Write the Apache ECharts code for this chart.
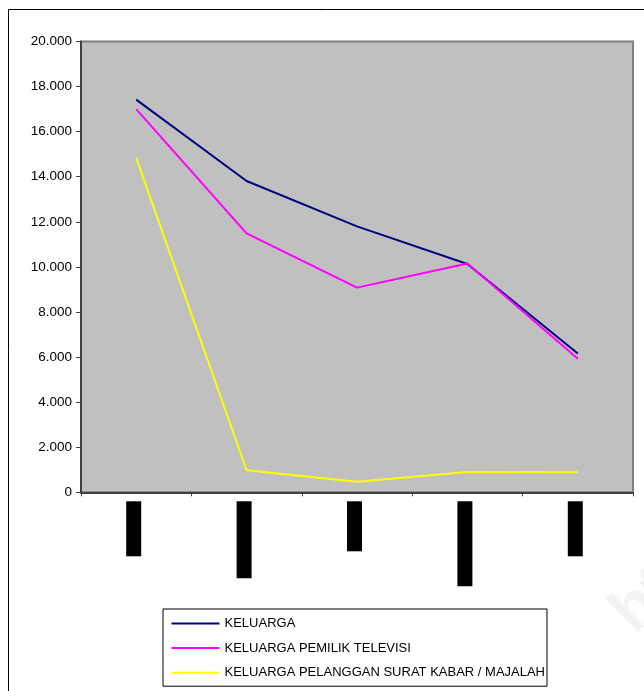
<!DOCTYPE html>
<html>
<head>
<meta charset="utf-8">
<script src="https://cdn.jsdelivr.net/npm/echarts@6/dist/echarts.min.js"></script>
<style>html,body{margin:0;padding:0;background:#fff}#c{width:644px;height:691px}</style>
</head>
<body>
<div id="c"></div>
<script>
var categories = ['Kec. A', 'Kec. B', 'Kec. C', 'Kec. D', 'Kec. E'];
var labelLengths = [55, 77, 50, 85, 55];
var keluarga = [17420, 13810, 11800, 10130, 6160];
var pemilikTv = [17000, 11490, 9080, 10150, 5930];
var pelangganKoran = [14840, 980, 470, 900, 890];
var yTickLabels = ['0', '2.000', '4.000', '6.000', '8.000', '10.000', '12.000', '14.000', '16.000', '18.000', '20.000'];
var seriesNames = ['KELUARGA', 'KELUARGA PEMILIK TELEVISI', 'KELUARGA PELANGGAN SURAT KABAR / MAJALAH'];

var rich = {};
labelLengths.forEach(function (l, i) {
  rich['b' + i] = {width: l, height: 15, backgroundColor: '#000', color: '#000', fontSize: 9, align: 'right'};
});

var chart = echarts.init(document.getElementById('c'), null, {renderer: 'canvas'});
chart.setOption({
  animation: false,
  backgroundColor: '#fff',
  textStyle: {fontFamily: 'Liberation Sans, Arial, sans-serif'},
  graphic: [
    {type: 'rect', shape: {x: 8.5, y: 9.5, width: 700, height: 700}, style: {fill: 'none', stroke: '#000', lineWidth: 1}, z: -10},
    {type: 'text', x: 600, y: 600, rotation: Math.PI / 4, style: {text: 'http', fill: '#f3f3f3', font: 'bold 64px Liberation Sans'}, z: -5}
  ],
  grid: {left: 81, right: 11, top: 41.5, bottom: 198.7, show: true, backgroundColor: '#C0C0C0', borderColor: '#808080', borderWidth: 2},
  legend: {
    orient: 'vertical', left: 163, top: 609,
    padding: [8, 2, 7, 7.5],
    itemWidth: 48, itemHeight: 14, itemGap: 11.6,
    itemStyle: {opacity: 0},
    borderColor: '#000', borderWidth: 1, backgroundColor: '#fff',
    textStyle: {fontSize: 13, color: '#000', fontFamily: 'Liberation Sans'},
    data: seriesNames
  },
  xAxis: {
    type: 'category', data: categories, boundaryGap: true,
    axisLine: {lineStyle: {color: '#404040', width: 2}},
    axisTick: {show: true, length: 4, lineStyle: {color: '#404040', width: 1}},
    axisLabel: {
      rotate: 90, margin: 9, interval: 0, padding: [0, 0, 5, 0],
      formatter: function (v, i) { return '{b' + i + '|' + v + '}'; },
      rich: rich
    }
  },
  yAxis: {
    type: 'value', min: 0, max: 20000, interval: 2000,
    splitLine: {show: false},
    axisLine: {show: true, lineStyle: {color: '#404040', width: 2}},
    axisTick: {show: true, length: 5, lineStyle: {color: '#404040'}},
    axisLabel: {
      margin: 9, fontSize: 13.5, color: '#000', fontFamily: 'Liberation Sans',
      formatter: function (v) { return yTickLabels[Math.round(v / 2000)]; }
    }
  },
  series: [
    {name: seriesNames[0], type: 'line', data: keluarga, symbol: 'none', lineStyle: {color: '#000080', width: 2}, itemStyle: {color: '#000080'}},
    {name: seriesNames[1], type: 'line', data: pemilikTv, symbol: 'none', lineStyle: {color: '#FF00FF', width: 2}, itemStyle: {color: '#FF00FF'}},
    {name: seriesNames[2], type: 'line', data: pelangganKoran, symbol: 'none', lineStyle: {color: '#FFFF00', width: 2}, itemStyle: {color: '#FFFF00'}}
  ]
});
</script>
</body>
</html>
